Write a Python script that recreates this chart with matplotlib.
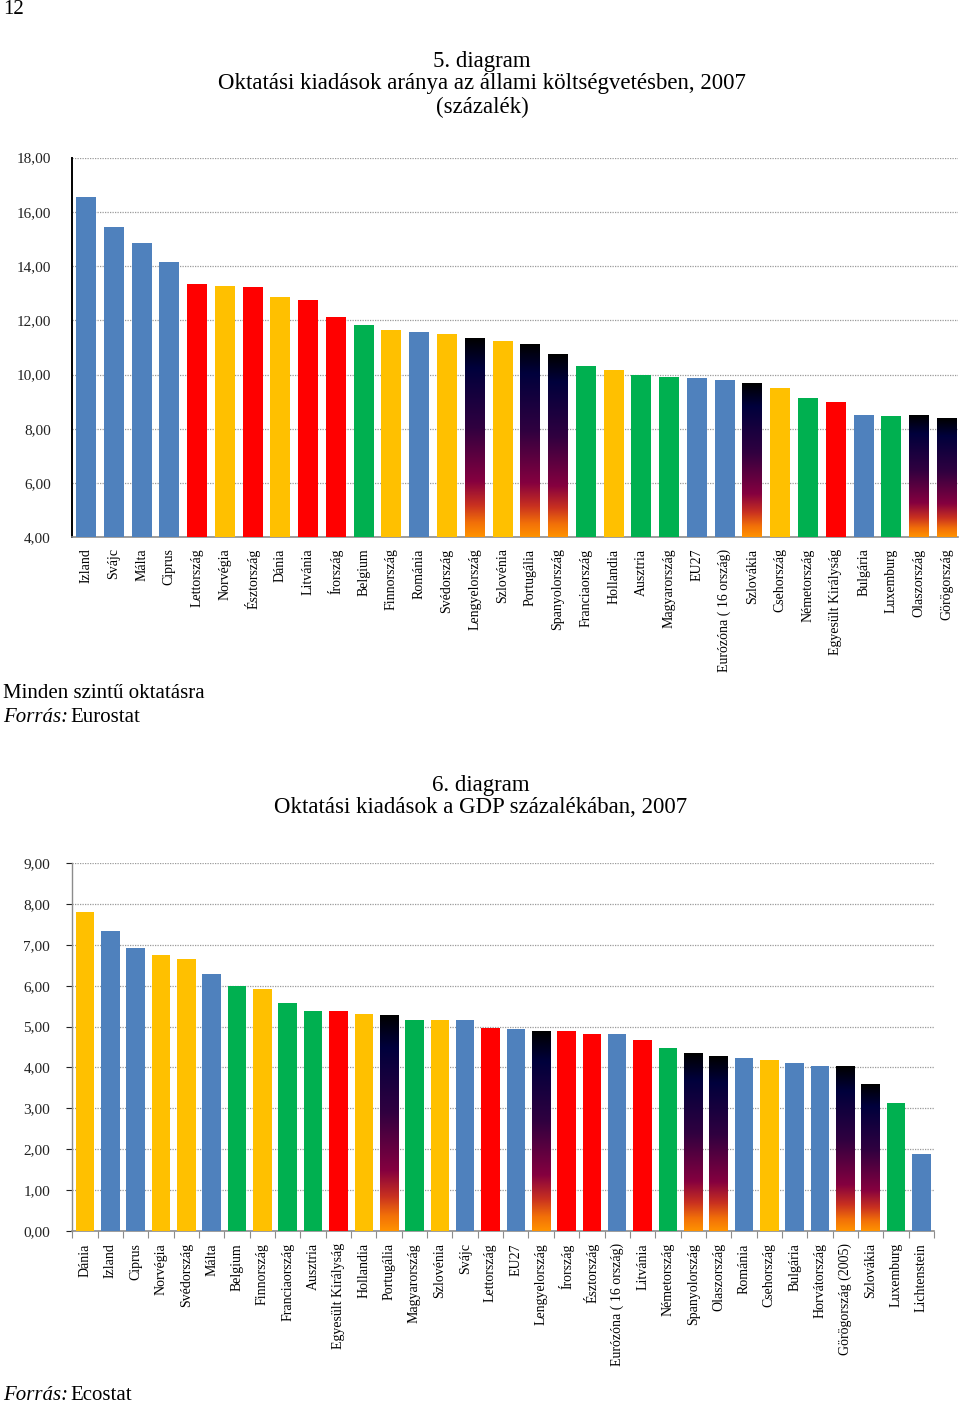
import matplotlib
matplotlib.use("Agg")
import matplotlib.pyplot as plt
import numpy as np
from matplotlib.colors import LinearSegmentedColormap
from matplotlib.ticker import FuncFormatter

# ---------------- data ----------------
cats_top = ["Izland", "Svájc", "Málta", "Ciprus", "Lettország", "Norvégia", "Észtország",
            "Dánia", "Litvánia", "Írország", "Belgium", "Finnország", "Románia", "Svédország",
            "Lengyelország", "Szlovénia", "Portugália", "Spanyolország", "Franciaország",
            "Hollandia", "Ausztria", "Magyarország", "EU27", "Eurózóna ( 16 ország)",
            "Szlovákia", "Csehország", "Németország", "Egyesült Királyság", "Bulgária",
            "Luxemburg", "Olaszország", "Görögország"]
vals_top = [16.54, 15.43, 14.85, 14.14, 13.33, 13.28, 13.24, 12.86, 12.76, 12.12, 11.82,
            11.63, 11.55, 11.49, 11.33, 11.23, 11.11, 10.71, 10.30, 10.18, 9.97, 9.91,
            9.86, 9.81, 9.67, 9.50, 9.14, 9.00, 8.50, 8.47, 8.47, 8.38]
grp_top = ["B", "B", "B", "B", "R", "Y", "R", "Y", "R", "R", "G", "Y", "B", "Y", "F", "Y",
           "F", "F", "G", "Y", "G", "G", "B", "B", "F", "Y", "G", "R", "B", "G", "F", "F"]
yticks_top = [4, 6, 8, 10, 12, 14, 16, 18]

cats_bot = ["Dánia", "Izland", "Ciprus", "Norvégia", "Svédország", "Málta", "Belgium",
            "Finnország", "Franciaország", "Ausztria", "Egyesült Királyság", "Hollandia",
            "Portugália", "Magyarország", "Szlovénia", "Svájc", "Lettország", "EU27",
            "Lengyelország", "Írország", "Észtország", "Eurózóna ( 16 ország)", "Litvánia",
            "Németország", "Spanyolország", "Olaszország", "Románia", "Csehország",
            "Bulgária", "Horvátország", "Görögország (2005)", "Szlovákia", "Luxemburg",
            "Lichtenstein"]
vals_bot = [7.81, 7.34, 6.92, 6.75, 6.66, 6.30, 6.00, 5.91, 5.57, 5.38, 5.37, 5.30, 5.28,
            5.17, 5.17, 5.16, 4.97, 4.95, 4.89, 4.89, 4.83, 4.81, 4.66, 4.48, 4.34, 4.27,
            4.22, 4.18, 4.10, 4.03, 4.02, 3.60, 3.13, 1.89]
grp_bot = ["Y", "B", "B", "Y", "Y", "B", "G", "Y", "G", "G", "R", "Y", "F", "G", "Y", "B",
           "R", "B", "F", "R", "R", "B", "R", "G", "F", "F", "B", "Y", "B", "B", "F", "F",
           "G", "B"]
yticks_bot = [0, 1, 2, 3, 4, 5, 6, 7, 8, 9]

# ---------------- style ----------------
COL = {"B": "#4F81BD", "R": "#FF0000", "Y": "#FFC000", "G": "#00B050"}
fire = LinearSegmentedColormap.from_list(
    "fire", [(0.0, "#000000"), (0.15, "#00003C"), (0.45, "#300040"),
             (0.72, "#85003F"), (0.84, "#C83020"), (0.93, "#F27008"), (1.0, "#FF9200")])

SERIF = ["Liberation Serif", "DejaVu Serif"]
plt.rcParams["font.family"] = SERIF

W, H = 960, 1405
fig = plt.figure(figsize=(W / 100, H / 100), dpi=100)
fig.patch.set_facecolor("white")


def fx(px):
    return px / W


def fy(py):
    return 1 - py / H


def comma(v, pos):
    return f"{v:.2f}".replace(".", ",")


def draw_chart(rect, cats, vals, grps, yticks, xlim, width, left_col, ticks_x):
    ax = fig.add_axes(rect)
    x = np.arange(len(cats))
    ymin, ymax = yticks[0], yticks[-1]
    for i, (v, g) in enumerate(zip(vals, grps)):
        if g == "F":
            grad = np.linspace(0, 1, 256).reshape(-1, 1)
            ax.imshow(grad, cmap=fire, aspect="auto", interpolation="bilinear",
                      extent=(x[i] - width / 2, x[i] + width / 2, ymin, v),
                      origin="upper", zorder=3)
        else:
            ax.bar(x[i], v - ymin, bottom=ymin, width=width, color=COL[g],
                   zorder=3, linewidth=0)
    ax.set_xlim(*xlim)
    ax.set_ylim(ymin, ymax)
    ax.set_yticks(yticks)
    ax.yaxis.set_major_formatter(FuncFormatter(comma))
    ax.yaxis.grid(True, color="#9A9A9A", linestyle=(0, (1, 1)), linewidth=0.9, zorder=0)
    ax.set_axisbelow(True)
    for s in ["top", "right"]:
        ax.spines[s].set_visible(False)
    ax.spines["left"].set_color(left_col)
    ax.spines["left"].set_linewidth(1.4 if left_col == "black" else 1.0)
    ax.spines["bottom"].set_color("#8C8C8C")
    ax.spines["bottom"].set_linewidth(1.2)
    ax.tick_params(axis="y", labelsize=11, colors="#222222",
                   length=4 if left_col != "black" else 0, width=0.8,
                   pad=15 if left_col == "black" else 12)
    ax.set_xticks(x)
    ax.set_xticklabels(cats, rotation=90, fontsize=10, va="top", ha="center")
    if ticks_x:
        ax.set_xticks(np.arange(len(cats) + 1) - 0.5, minor=True)
        ax.tick_params(axis="x", which="minor", length=5, color="#8C8C8C", width=0.8)
        ax.tick_params(axis="x", which="major", length=0, pad=9)
    else:
        ax.tick_params(axis="x", which="major", length=0, pad=8)
    return ax


# top chart
l1, r1, t1, b1 = 71.7, 958, 157.5, 537.3
draw_chart([fx(l1), fy(b1), fx(r1 - l1), (b1 - t1) / H], cats_top, vals_top, grp_top,
           yticks_top, (-0.515, 31.4), 0.72, "black", False)

# bottom chart
l2, r2, t2, b2 = 72.3, 934, 863.3, 1230.7
draw_chart([fx(l2), fy(b2), fx(r2 - l2), (b2 - t2) / H], cats_bot, vals_bot, grp_bot,
           yticks_bot, (-0.5, 33.4), 0.73, "#8C8C8C", True)

# texts
fs = 15
ft = 16.5
fig.text(fx(3), fy(9), "12", fontsize=fs, ha="left", va="center")
fig.text(fx(482), fy(61), "5. diagram", fontsize=ft, ha="center", va="center")
fig.text(fx(482), fy(84), "Oktatási kiadások aránya az állami költségvetésben, 2007",
         fontsize=ft, ha="center", va="center")
fig.text(fx(482), fy(107), "(százalék)", fontsize=ft, ha="center", va="center")

fig.text(fx(3), fy(693), "Minden szintű oktatásra", fontsize=fs, ha="left", va="center")
fig.text(fx(3), fy(717), "Forrás:", fontsize=fs, style="italic", ha="left", va="center")
fig.text(fx(70), fy(717), "Eurostat", fontsize=fs, ha="left", va="center")

fig.text(fx(481), fy(785), "6. diagram", fontsize=ft, ha="center", va="center")
fig.text(fx(481), fy(808), "Oktatási kiadások a GDP százalékában, 2007",
         fontsize=ft, ha="center", va="center")

fig.text(fx(3), fy(1395), "Forrás:", fontsize=fs, style="italic", ha="left", va="center")
fig.text(fx(70), fy(1395), "Ecostat", fontsize=fs, ha="left", va="center")

fig.savefig("out.png", dpi=100, facecolor="white")
